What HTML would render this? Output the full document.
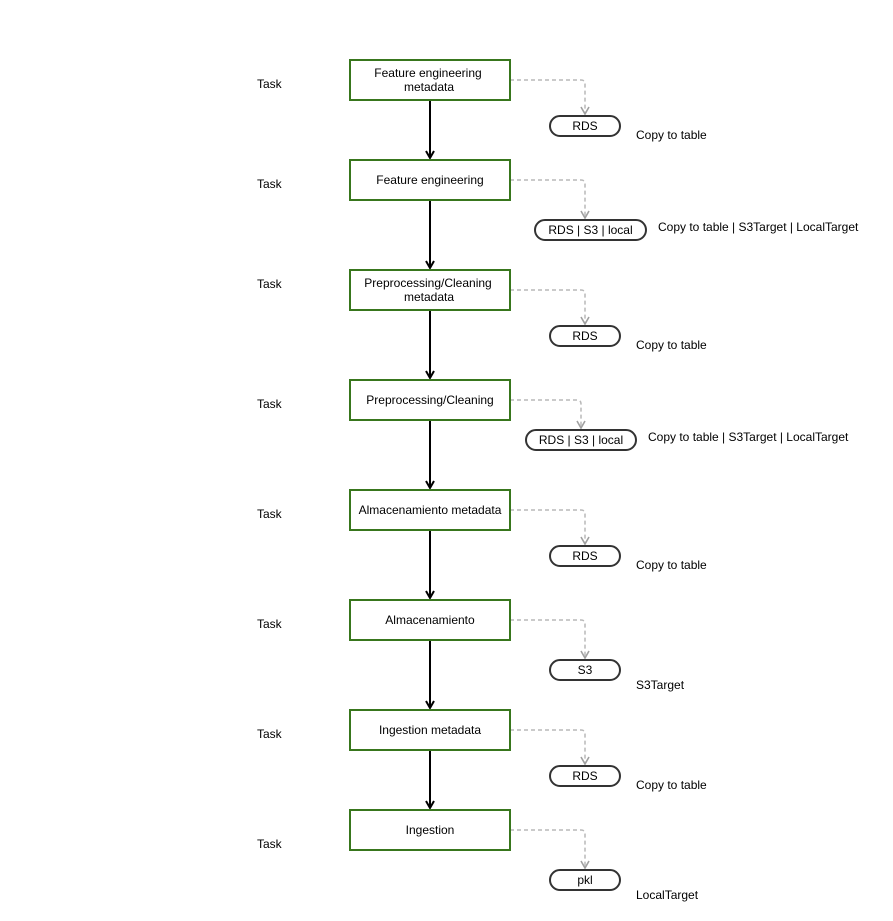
<!DOCTYPE html>
<html><head><meta charset="utf-8"><style>
html,body{margin:0;padding:0;background:#fff;}
svg{display:block;font-family:"Liberation Sans",sans-serif;}
</style></head><body>
<svg width="893" height="921" viewBox="0 0 893 921" xmlns="http://www.w3.org/2000/svg">
<g font-size="12" fill="#000">
<!-- black arrows -->
<g stroke="#000" stroke-width="2" fill="none">
<line x1="430" y1="100" x2="430" y2="158"/><path d="M426,151 L430,158 L434,151"/>
<line x1="430" y1="200" x2="430" y2="268"/><path d="M426,261 L430,268 L434,261"/>
<line x1="430" y1="310" x2="430" y2="378"/><path d="M426,371 L430,378 L434,371"/>
<line x1="430" y1="420" x2="430" y2="488"/><path d="M426,481 L430,488 L434,481"/>
<line x1="430" y1="530" x2="430" y2="598"/><path d="M426,591 L430,598 L434,591"/>
<line x1="430" y1="640" x2="430" y2="708"/><path d="M426,701 L430,708 L434,701"/>
<line x1="430" y1="750" x2="430" y2="808"/><path d="M426,801 L430,808 L434,801"/>
</g>
<!-- dashed connectors -->
<g stroke="#b8b8b8" stroke-width="1.5" fill="none" stroke-dasharray="4,3">
<path d="M510,80 H581 Q585,80 585,84 V114"/>
<path d="M510,180 H581 Q585,180 585,184 V218"/>
<path d="M510,290 H581 Q585,290 585,294 V324"/>
<path d="M510,400 H577 Q581,400 581,404 V428"/>
<path d="M510,510 H581 Q585,510 585,514 V544"/>
<path d="M510,620 H581 Q585,620 585,624 V658"/>
<path d="M510,730 H581 Q585,730 585,734 V764"/>
<path d="M510,830 H581 Q585,830 585,834 V868"/>
</g>
<g stroke="#a0a0a0" stroke-width="1.6" fill="none">
<path d="M581,107 L585,114 L589,107"/>
<path d="M581,211 L585,218 L589,211"/>
<path d="M581,317 L585,324 L589,317"/>
<path d="M577,421 L581,428 L585,421"/>
<path d="M581,537 L585,544 L589,537"/>
<path d="M581,651 L585,658 L589,651"/>
<path d="M581,757 L585,764 L589,757"/>
<path d="M581,861 L585,868 L589,861"/>
</g>
<!-- boxes -->
<g fill="#fff" stroke="#38761d" stroke-width="2">
<rect x="350" y="60" width="160" height="40"/>
<rect x="350" y="160" width="160" height="40"/>
<rect x="350" y="270" width="160" height="40"/>
<rect x="350" y="380" width="160" height="40"/>
<rect x="350" y="490" width="160" height="40"/>
<rect x="350" y="600" width="160" height="40"/>
<rect x="350" y="710" width="160" height="40"/>
<rect x="350" y="810" width="160" height="40"/>
</g>
<g text-anchor="middle">
<text x="428" y="77">Feature engineering</text><text x="429" y="91">metadata</text>
<text x="430" y="184">Feature engineering</text>
<text x="428" y="287">Preprocessing/Cleaning</text><text x="429" y="301">metadata</text>
<text x="430" y="404">Preprocessing/Cleaning</text>
<text x="430" y="514">Almacenamiento metadata</text>
<text x="430" y="624">Almacenamiento</text>
<text x="430" y="734">Ingestion metadata</text>
<text x="430" y="834">Ingestion</text>
</g>
<!-- pills -->
<g fill="#fff" stroke="#333" stroke-width="2">
<rect x="550" y="116" width="70" height="20" rx="10"/>
<rect x="535" y="220" width="111" height="20" rx="10"/>
<rect x="550" y="326" width="70" height="20" rx="10"/>
<rect x="526" y="430" width="110" height="20" rx="10"/>
<rect x="550" y="546" width="70" height="20" rx="10"/>
<rect x="550" y="660" width="70" height="20" rx="10"/>
<rect x="550" y="766" width="70" height="20" rx="10"/>
<rect x="550" y="870" width="70" height="20" rx="10"/>
</g>
<g text-anchor="middle">
<text x="585" y="130">RDS</text>
<text x="590.5" y="234">RDS | S3 | local</text>
<text x="585" y="340">RDS</text>
<text x="581" y="444">RDS | S3 | local</text>
<text x="585" y="560">RDS</text>
<text x="585" y="674">S3</text>
<text x="585" y="780">RDS</text>
<text x="585" y="884">pkl</text>
</g>
<!-- right labels -->
<text x="636" y="139">Copy to table</text>
<text x="658" y="231">Copy to table | S3Target | LocalTarget</text>
<text x="636" y="349">Copy to table</text>
<text x="648" y="441">Copy to table | S3Target | LocalTarget</text>
<text x="636" y="569">Copy to table</text>
<text x="636" y="689">S3Target</text>
<text x="636" y="789">Copy to table</text>
<text x="636" y="899">LocalTarget</text>
<!-- Task labels -->
<g>
<text x="257" y="88">Task</text>
<text x="257" y="188">Task</text>
<text x="257" y="288">Task</text>
<text x="257" y="408">Task</text>
<text x="257" y="518">Task</text>
<text x="257" y="628">Task</text>
<text x="257" y="738">Task</text>
<text x="257" y="848">Task</text>
</g>
</g>
</svg>
</body></html>
